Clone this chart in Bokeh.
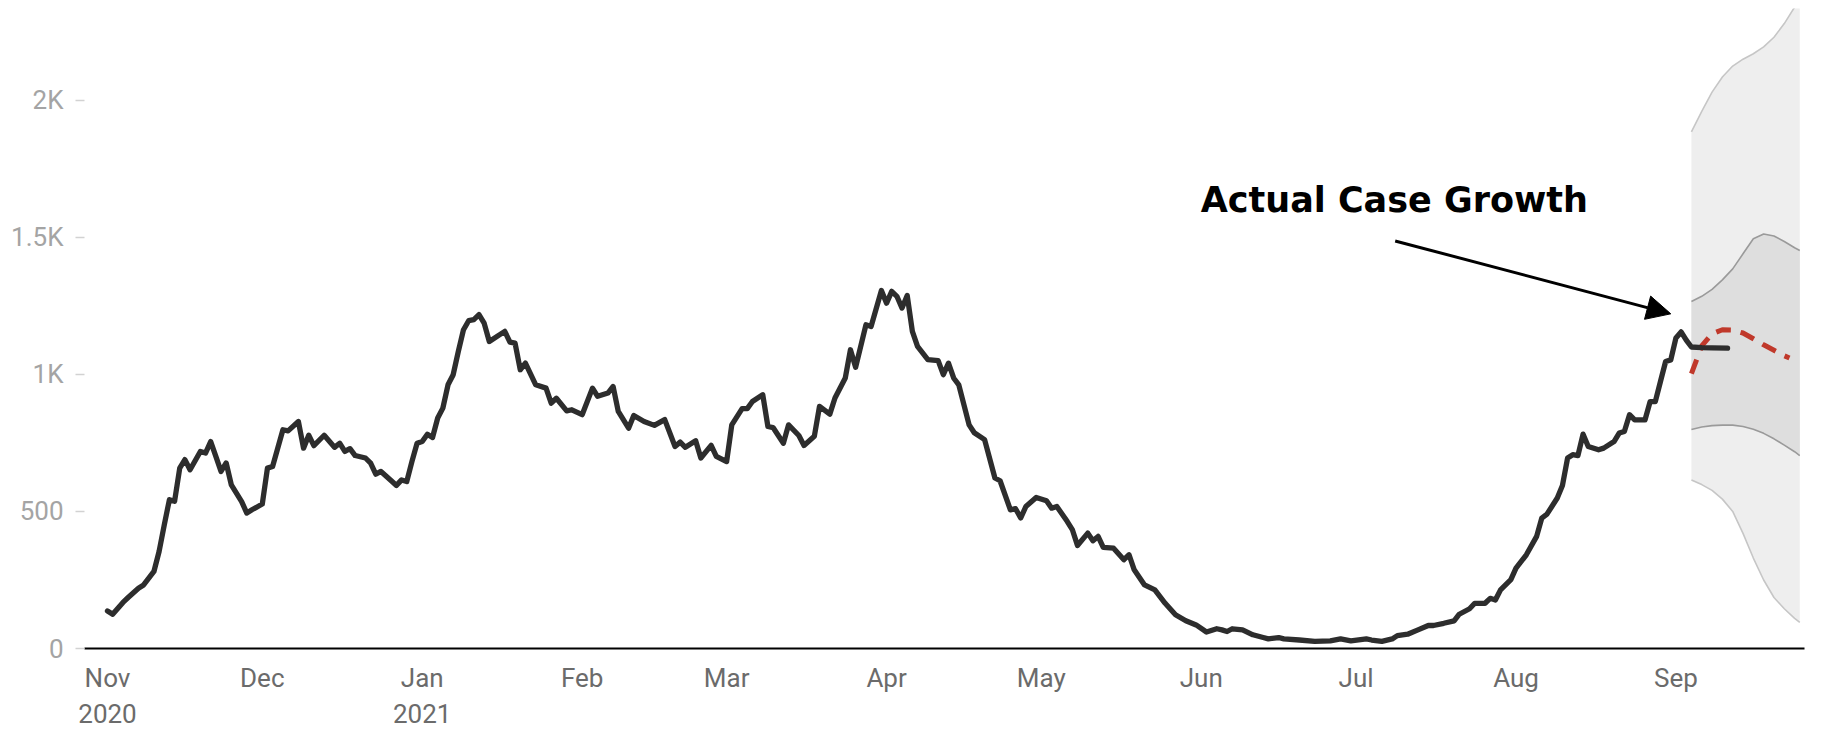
import pandas as pd
from bokeh.plotting import figure
from bokeh.models import Range1d, FixedTicker, Label, Arrow, NormalHead
from bokeh.embed import file_html
from bokeh.resources import INLINE

# ---------------- data ----------------
start_date = "2020-11-01"

case_day_offsets = [
    0, 1, 3, 4, 6, 7, 9, 10, 11, 12, 13, 14, 15, 16, 18, 19, 20, 21, 22, 23, 24, 26, 27, 28, 30,
    31, 32, 34, 35, 37, 38, 39, 40, 42, 44, 45, 46, 47, 48, 50, 51, 52, 53, 55, 56, 57, 58, 59, 60,
    61, 62, 63, 64, 65, 66, 67, 68, 69, 70, 71, 72, 73, 74, 77, 78, 79, 80, 81, 83, 85, 86, 87, 89,
    90, 92, 94, 95, 97, 98, 99, 101, 102, 104, 106, 108, 110, 111, 112, 114, 115, 117, 118, 120,
    121, 123, 124, 125, 127, 128, 129, 131, 132, 134, 135, 137, 138, 140, 141, 143, 144, 145, 147,
    148, 150, 151, 152, 153, 154, 155, 156, 157, 159, 161, 162, 163, 164, 165, 167, 168, 170, 172,
    173, 175, 176, 177, 178, 180, 182, 183, 184, 186, 187, 188, 190, 191, 192, 193, 195, 197, 198,
    199, 201, 203, 205, 207, 209, 211, 213, 215, 216, 217, 218, 220, 222, 224, 225, 227, 228, 231,
    234, 237, 239, 241, 244, 245, 247, 249, 250, 252, 254, 256, 257, 259, 261, 262, 264, 265, 267,
    268, 269, 270, 272, 273, 275, 277, 278, 279, 281, 282, 283, 284, 285, 286, 287, 289, 290, 292,
    293, 294, 295, 296, 298, 299, 300, 301, 302, 303, 304, 305, 306, 307, 309, 311, 314,
]
case_values = [
    137, 125, 168, 186, 220, 232, 281, 354, 451, 543, 537, 658, 689, 652, 719, 713, 755, 701, 646, 677, 597, 536, 494, 506, 527,
    658, 664, 798, 794, 828, 731, 778, 740, 778, 734, 749, 719, 729, 704, 695, 676, 636, 646, 612, 595, 615, 609, 682, 749,
    755, 782, 770, 841, 877, 962, 999, 1084, 1163, 1196, 1200, 1218, 1187, 1120, 1157, 1118, 1114, 1017, 1041, 962, 950, 895, 913, 867,
    871, 853, 950, 920, 932, 956, 865, 804, 850, 828, 814, 835, 737, 753, 734, 758, 695, 741, 701, 682,
    816, 875, 875, 901, 926, 810, 806, 749, 816, 777, 741, 774, 883, 855, 914, 987, 1090, 1026, 1181,
    1175, 1306, 1260, 1303, 1285, 1242, 1288, 1157, 1102, 1054, 1050, 999, 1041, 987, 962, 816, 787, 762, 622,
    612, 506, 510, 476, 518, 551, 539, 512, 518, 464, 434, 376, 421, 393, 409, 369, 366, 324, 342,
    287, 232, 214, 165, 123, 101, 86, 60, 72, 68, 62, 72, 68, 50, 40, 35, 40, 35, 31,
    26, 28, 35, 28, 35, 31, 26, 35, 47, 52, 68, 84, 84, 92, 101, 125, 145, 165, 165,
    183, 177, 214, 251, 293, 342, 409, 476, 490, 549, 595, 695, 707, 704, 782, 737, 725, 731, 755,
    786, 792, 853, 834, 834, 901, 901, 974, 1047, 1053, 1133, 1155, 1125, 1100, 1098, 1097, 1096,
]

band_day_offsets = [307, 309, 311, 313, 315, 317, 319, 321, 323, 325, 327, 328]
outer_upper = [1885, 1960, 2030, 2085, 2125, 2150, 2170, 2195, 2230, 2280, 2340, 2380]
outer_lower = [615, 598, 577, 545, 500, 420, 330, 250, 186, 145, 110, 95]
inner_upper = [1266, 1285, 1310, 1345, 1385, 1440, 1495, 1512, 1505, 1485, 1462, 1452]
inner_lower = [799, 808, 813, 815, 815, 810, 800, 785, 765, 742, 718, 704]

forecast_day_offsets = [307, 309, 311, 313, 315, 317, 319, 321, 323, 325, 326]
forecast_values = [1003, 1104, 1148, 1163, 1162, 1151, 1130, 1108, 1088, 1068, 1060]

tick_dates = ["2020-11-01", "2020-12-01", "2021-01-01", "2021-02-01", "2021-03-01", "2021-04-01",
              "2021-05-01", "2021-06-01", "2021-07-01", "2021-08-01", "2021-09-01"]
tick_labels = ["Nov\n2020", "Dec", "Jan\n2021", "Feb", "Mar", "Apr", "May", "Jun", "Jul", "Aug", "Sep"]
y_ticks = [0, 500, 1000, 1500, 2000]
y_tick_labels = ["0", "500", "1K", "1.5K", "2K"]

annotation_text = "Actual Case Growth"
annotation_date, annotation_value = "2021-07-08 10:00", 1638
arrow_start_date, arrow_start_value = "2021-07-08 14:00", 1487
arrow_end_date, arrow_end_value = "2021-08-31 00:00", 1221

x_start_date, x_end_date = "2020-10-27 13:00", "2021-09-25 22:00"
y_max = 2335


def ms(s):
    return int(pd.Timestamp(s).value // 1_000_000)


base = pd.Timestamp(start_date)
case_x = base + pd.to_timedelta(case_day_offsets, unit="D")
band_x = base + pd.to_timedelta(band_day_offsets, unit="D")
fc_x = base + pd.to_timedelta(forecast_day_offsets, unit="D")

# ---------------- figure ----------------
p = figure(
    x_axis_type="datetime",
    frame_width=1720, frame_height=640,
    min_border_left=84, min_border_right=5, min_border_top=8, min_border_bottom=72,
    x_range=Range1d(ms(x_start_date), ms(x_end_date)),
    y_range=Range1d(0, y_max),
    output_backend="svg", toolbar_location=None,
)
p.outline_line_color = None
p.xgrid.visible = False
p.ygrid.visible = False
p.background_fill_color = "white"
p.border_fill_color = "white"

# forecast bands
p.varea(x=band_x, y1=outer_lower, y2=outer_upper, fill_color="#eeeeee")
p.varea(x=band_x, y1=inner_lower, y2=inner_upper, fill_color="#dedede")
p.line(band_x, outer_upper, line_color="#c6c6c6", line_width=1.6)
p.line(band_x, outer_lower, line_color="#c6c6c6", line_width=1.6)
p.line(band_x, inner_upper, line_color="#9a9a9a", line_width=1.6)
p.line(band_x, inner_lower, line_color="#9a9a9a", line_width=1.6)

# forecast
p.line(fc_x, forecast_values, line_color="#c0392b", line_width=5, line_dash="15 10")

# actual cases
p.line(case_x, case_values, line_color="#2d2d2d", line_width=5.3,
       line_join="round", line_cap="round")

# annotation
p.add_layout(Label(
    x=ms(annotation_date), y=annotation_value, text=annotation_text,
    text_font="DejaVu Sans", text_font_style="bold", text_font_size="35px",
    text_color="black", text_align="center", text_baseline="alphabetic",
))
p.add_layout(Arrow(
    end=NormalHead(size=24, fill_color="black", line_color="black", line_width=1),
    x_start=ms(arrow_start_date), y_start=arrow_start_value,
    x_end=ms(arrow_end_date), y_end=arrow_end_value,
    line_color="black", line_width=3,
))

# axes
xa = p.xaxis[0]
xa.ticker = FixedTicker(ticks=[ms(d) for d in tick_dates])
xa.major_label_overrides = {ms(d): lab for d, lab in zip(tick_dates, tick_labels)}
xa.axis_line_color = "black"
xa.axis_line_width = 2
xa.major_tick_line_color = None
xa.minor_tick_line_color = None
xa.major_tick_out = 0
xa.major_tick_in = 0
xa.major_label_standoff = 14
xa.major_label_text_font = "Roboto"
xa.major_label_text_font_size = "26px"
xa.major_label_text_color = "#6b6b6b"

ya = p.yaxis[0]
ya.ticker = FixedTicker(ticks=y_ticks)
ya.major_label_overrides = {t: lab for t, lab in zip(y_ticks, y_tick_labels)}
ya.axis_line_color = None
ya.major_tick_line_color = "#d2d2d2"
ya.major_tick_line_width = 1.5
ya.major_tick_out = 9
ya.major_tick_in = 0
ya.minor_tick_line_color = None
ya.major_label_standoff = 12
ya.major_label_text_font = "Roboto"
ya.major_label_text_font_size = "26px"
ya.major_label_text_color = "#a4a4a4"

open("out.html", "w").write(file_html(p, INLINE))
